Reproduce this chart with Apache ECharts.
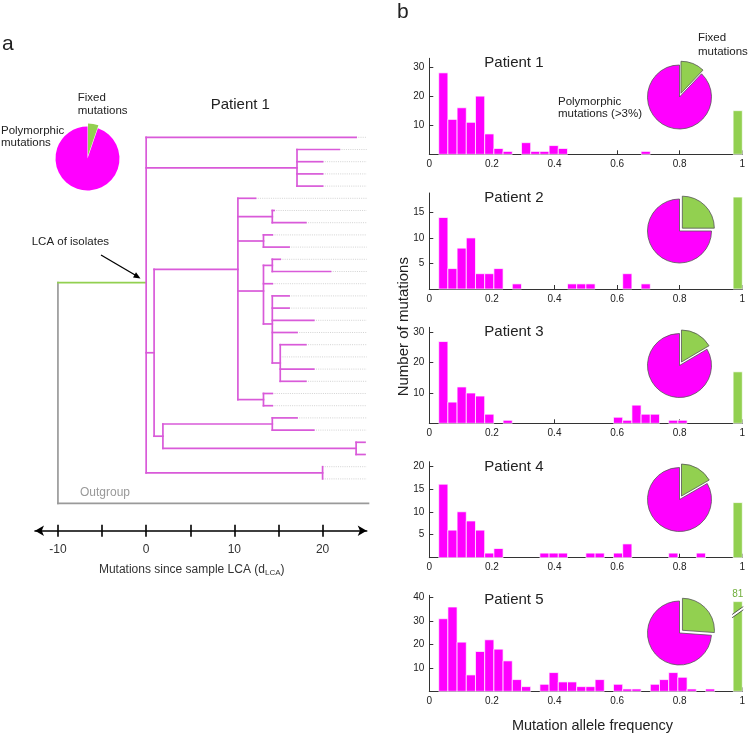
<!DOCTYPE html>
<html><head><meta charset="utf-8">
<script src="https://cdn.jsdelivr.net/npm/echarts@6/dist/echarts.min.js"></script>
<style>html,body{margin:0;padding:0;background:#fff}#c{width:750px;height:737px}</style>
</head><body><div id="c"></div>
<script>
// ===== Panel b: histogram data (32 polymorphic bins from 0.03, last bin = fixed) =====
const patients = ['Patient 1', 'Patient 2', 'Patient 3', 'Patient 4', 'Patient 5'];
const freqTicks = [0, 0.2, 0.4, 0.6, 0.8, 1];
const binStart = 0.03;
const binTotal = 33;
const p1Counts = [28,12,16,11,20,7,2,1,0,4,1,1,3,2,0,0,0,0,0,0,0,0,1,0,0,0,0,0,0,0,0,0];
const p2Counts = [14,4,8,10,3,3,4,0,1,0,0,0,0,0,1,1,1,0,0,0,3,0,1,0,0,0,0,0,0,0,0,0];
const p3Counts = [27,7,12,10,9,3,0,1,0,0,0,0,0,0,0,0,0,0,0,2,1,6,3,3,0,1,1,0,0,0,0,0];
const p4Counts = [16,6,10,8,6,1,2,0,0,0,0,1,1,1,0,0,1,1,0,1,3,0,0,0,0,1,0,0,1,0,0,0];
const p5Counts = [31,36,21,7,17,22,18,13,5,2,0,3,8,4,4,2,2,5,0,3,1,1,0,3,5,8,6,1,0,1,0,0];
const fixedCounts = [15, 18, 17, 12, 81];
const yMaxes = [33, 18.8, 31.7, 20.9, 41];
const yTickLabels = [[10,20,30],[5,10,15],[10,20,30],[5,10,15,20],[10,20,30,40]];
const breakCaps = [0, 0, 0, 0, 38.3];   // axis break for the fixed bar of patient 5
const breakMarkAt = 33.8;

// ===== Panel a: tree data (positions in mutations since sample LCA) =====
const nodeNames = ['R0','LCA','A','B','C','E','F','G','H','I','K','L','D','M','N','O'];
const nodeX = [-10, 0, 17.1, 0.9, 10.4, 14.3, 13.3, 13.3, 14.3, 14.3, 15.2, 13.3, 1.9, 14.3, 23.8, 20.0];
const nodeChildren = [['LCA','OUT'],[0,'A','B','O'],[1,2,3,4],['C','D'],[5,'E','F','G','L'],[6,7],[8,9],
  ['H',12,'I'],[10,11],[13,14,15,16,'K'],[17,18,19,20],[21,22],['M','N'],[23,24],[25,26],[27,28]];
const leafTipX = [23.8, 21.9,20.0,20.0,20.0, 12.4, 14.5,18.1, 14.3,16.2, 15.2,20.9, 14.3,
  16.2,16.2,19.0,17.1, 18.1,15.2,19.0,18.1, 14.3,14.3, 17.1,19.0, 24.8,24.8, 20.0,20.0];
const outgroupTipX = 25.2;
const outgroupRow = 30;
const leafLineEnd = 25.0;
const treeTickValues = [-10,-5,0,5,10,15,20];
const treeTickLabels = [-10,0,10,20];
const treePieFixed = 10;
const treePiePoly = 180;

// ===== styles =====
const MAG = '#ff00ff', GREEN = '#92d050', TREE_MAG = '#d95ad9', GRAY = '#9a9a9a';
const FONT = '"Liberation Sans", Helvetica, Arial, sans-serif';
const TXT = '#222';

const counts = [p1Counts, p2Counts, p3Counts, p4Counts, p5Counts];
const binW = (1 - binStart) / binTotal;
const gridTops = [58.3, 193, 327.3, 461.7, 595.3];
const pieCenters = [[679.5, 97], [679.5, 231], [679.5, 365.5], [679.5, 499.5], [679.5, 633]];

// ---- tree computation ----
const idx = {}; nodeNames.forEach((n, i) => idx[n] = i);
function yOf(c) {
  if (typeof c === 'number') return c;
  if (c === 'OUT') return outgroupRow;
  const ch = nodeChildren[idx[c]];
  return ch.reduce((s, k) => s + yOf(k), 0) / ch.length;
}
function xOf(c) {
  if (typeof c === 'number') return leafTipX[c];
  if (c === 'OUT') return outgroupTipX;
  return nodeX[idx[c]];
}
const treeColors = [TREE_MAG, GREEN, GRAY];
const segs = [];
nodeNames.forEach((n, i) => {
  const ch = nodeChildren[i];
  const ys = ch.map(yOf);
  segs.push([nodeX[i], Math.min(...ys), nodeX[i], Math.max(...ys), n === 'R0' ? 2 : 0]);
  ch.forEach(c => {
    const cy = yOf(c), cx = xOf(c);
    if (cx > nodeX[i]) segs.push([nodeX[i], cy, cx, cy, c === 'LCA' ? 1 : (c === 'OUT' ? 2 : 0)]);
  });
});
const dotted = leafTipX.map((t, k) => [t, k, leafLineEnd, k]);

// ---- build options ----
const grids = [{left: 35, width: 331.7, top: 125.1, height: 405.65}];
const xAxes = [
  {gridIndex: 0, type: 'value', min: -12.6, max: 25.0, position: 'bottom',
   axisLine: {show: true, onZero: false, symbol: ['arrow', 'arrow'], symbolSize: [8, 9], lineStyle: {color: '#000', width: 1.6}},
   axisTick: {show: true, inside: false, length: 6, customValues: treeTickValues, lineStyle: {color: '#000', width: 1.6}},
   axisLabel: {customValues: treeTickLabels, margin: 13, fontSize: 12, color: '#333', fontFamily: FONT},
   splitLine: {show: false}},
  {gridIndex: 0, type: 'value', min: -12.6, max: 25.0, position: 'bottom',
   axisLine: {show: false, onZero: false},
   axisTick: {show: true, inside: true, length: 6, customValues: treeTickValues, lineStyle: {color: '#000', width: 1.6}},
   axisLabel: {show: false}, splitLine: {show: false}}
];
const yAxes = [{gridIndex: 0, type: 'value', inverse: true, min: -1, max: 32.25, show: false}];
const series = [
  {type: 'custom', xAxisIndex: 0, yAxisIndex: 0, silent: true, data: dotted, encode: {x: [0, 2], y: [1, 3]},
   renderItem: (p, api) => {
     if (api.value(0) >= api.value(2)) return null;
     const a = api.coord([api.value(0), api.value(1)]), b = api.coord([api.value(2), api.value(3)]);
     return {type: 'line', shape: {x1: a[0], y1: a[1], x2: b[0], y2: b[1]},
       style: {stroke: '#b5b5b5', lineWidth: 0.6, lineDash: [1, 1.2]}};
   }},
  {type: 'custom', xAxisIndex: 0, yAxisIndex: 0, silent: true, data: segs, encode: {x: [0, 2], y: [1, 3]},
   renderItem: (p, api) => {
     const a = api.coord([api.value(0), api.value(1)]), b = api.coord([api.value(2), api.value(3)]);
     return {type: 'line', shape: {x1: a[0], y1: a[1], x2: b[0], y2: b[1]},
       style: {stroke: treeColors[api.value(4)], lineWidth: 1.7, lineCap: 'square'}};
   }},
  {type: 'pie', center: [87.5, 158.5], radius: 32, startAngle: 90, clockwise: true, silent: true,
   selectedMode: 'single', selectedOffset: 3, label: {show: false}, labelLine: {show: false},
   itemStyle: {borderWidth: 0},
   data: [{name: 'Fixed mutations', value: treePieFixed, selected: true, itemStyle: {color: GREEN}},
          {name: 'Polymorphic mutations', value: treePiePoly, itemStyle: {color: MAG}}]}
];

patients.forEach((name, i) => {
  const g = i + 1;        // grid / yAxis index
  const xi = i + 2;       // xAxis index (tree uses two x axes)
  grids.push({left: 429.3, width: 313, top: gridTops[i], height: 96});
  xAxes.push({gridIndex: g, type: 'value', min: 0, max: 1,
    axisLine: {show: true, onZero: false, lineStyle: {color: '#333', width: 1}},
    axisTick: {show: true, inside: true, length: 4, customValues: freqTicks, lineStyle: {color: '#333'}},
    axisLabel: {customValues: freqTicks, fontSize: 10, color: TXT, margin: 5, fontFamily: FONT},
    splitLine: {show: false}});
  yAxes.push({gridIndex: g, type: 'value', min: 0, max: yMaxes[i],
    axisLine: {show: true, onZero: false, lineStyle: {color: '#333', width: 1}},
    axisTick: {show: true, inside: true, length: 4, customValues: yTickLabels[i], lineStyle: {color: '#333'}},
    axisLabel: {customValues: yTickLabels[i], fontSize: 10, color: TXT, margin: 5, fontFamily: FONT},
    splitLine: {show: false}});
  const data = counts[i].map((c, b) => [binStart + b * binW, binStart + (b + 1) * binW, c, 0, 0]);
  data.push([binStart + counts[i].length * binW, binStart + (counts[i].length + 1) * binW, fixedCounts[i], 1, breakCaps[i]]);
  series.push({type: 'custom', xAxisIndex: xi, yAxisIndex: g, silent: true, data: data,
    encode: {x: [0, 1], y: 2},
    renderItem: (p, api) => {
      const v = api.value(2); if (!v) return null;
      const fixed = api.value(3) === 1, cap = api.value(4);
      const shown = cap ? Math.min(v, cap) : v;
      const a = api.coord([api.value(0), 0]), b = api.coord([api.value(1), shown]);
      const children = [{type: 'rect', shape: {x: a[0], y: b[1], width: b[0] - a[0], height: a[1] - b[1]},
        style: {fill: fixed ? GREEN : MAG, stroke: '#fff', lineWidth: 0.7}}];
      if (cap && v > cap) {
        const yc = api.coord([0, breakMarkAt])[1];
        const xl = a[0] - 1, xr = b[0] + 1, h = 4, t = 1.6;
        children.push({type: 'polygon', shape: {points: [[xl, yc + h + t], [xr, yc - h + t], [xr, yc - h - t], [xl, yc + h - t]]},
          style: {fill: '#fff'}});
        children.push({type: 'line', shape: {x1: xl, y1: yc + h + t, x2: xr, y2: yc - h + t}, style: {stroke: '#333', lineWidth: 0.8}});
        children.push({type: 'line', shape: {x1: xl, y1: yc + h - t, x2: xr, y2: yc - h - t}, style: {stroke: '#333', lineWidth: 0.8}});
        children.push({type: 'text', x: (a[0] + b[0]) / 2, y: b[1] - 7,
          style: {text: String(v), fill: '#6fae3a', font: '10px ' + FONT, align: 'center', verticalAlign: 'middle'}});
      }
      return {type: 'group', children: children};
    }});
  const poly = counts[i].reduce((s, c) => s + c, 0);
  series.push({type: 'pie', center: pieCenters[i], radius: 32, startAngle: 90, clockwise: true, silent: true,
    selectedMode: 'single', selectedOffset: 4, label: {show: false}, labelLine: {show: false},
    itemStyle: {borderColor: '#555', borderWidth: 0.8},
    data: [{name: 'Fixed mutations', value: fixedCounts[i], selected: true, itemStyle: {color: GREEN}},
           {name: 'Polymorphic mutations', value: poly, itemStyle: {color: MAG}}]});
});

function txt(x, y, s, size, opts) {
  return Object.assign({type: 'text', x: x, y: y, silent: true,
    style: Object.assign({text: s, font: size + 'px ' + FONT, fill: TXT, textAlign: 'left', textVerticalAlign: 'middle'}, opts || {})});
}
const graphics = [
  txt(2, 44, 'a', 21),
  txt(397, 12, 'b', 21),
  txt(210.7, 105, 'Patient 1', 15),
  txt(77.7, 97.7, 'Fixed', 11.5),
  txt(77.7, 110.5, 'mutations', 11.5),
  txt(1, 130.7, 'Polymorphic', 11.5),
  txt(1, 143.3, 'mutations', 11.5),
  txt(31.7, 242.3, 'LCA of isolates', 11.5),
  txt(80, 493, 'Outgroup', 12, {fill: '#999'}),
  {type: 'line', silent: true, shape: {x1: 101, y1: 255, x2: 135.5, y2: 275.3}, style: {stroke: '#000', lineWidth: 1.3}},
  {type: 'polygon', silent: true, shape: {points: [[140.5, 278.5], [133.0, 277.5], [136.0, 272.3]]}, style: {fill: '#000'}},
  {type: 'text', x: 191.7, y: 570, silent: true,
   style: {text: '{a|Mutations since sample LCA (d}{s|LCA}{a|)}', textAlign: 'center', textVerticalAlign: 'middle',
     rich: {a: {font: '12px ' + FONT, fill: '#333'}, s: {font: '8px ' + FONT, fill: '#333', padding: [6, 0, 0, 0]}}}},
  txt(698, 38.3, 'Fixed', 11.5),
  txt(698, 51.7, 'mutations', 11.5),
  txt(558, 101.7, 'Polymorphic', 11.5),
  txt(558, 114.3, 'mutations (>3%)', 11.5),
  {type: 'text', x: 403.7, y: 326.7, rotation: Math.PI / 2, silent: true,
   style: {text: 'Number of mutations', font: '15px ' + FONT, fill: TXT, textAlign: 'center', textVerticalAlign: 'middle'}},
  {type: 'text', x: 592.5, y: 726, silent: true,
   style: {text: 'Mutation allele frequency', font: '14.5px ' + FONT, fill: TXT, textAlign: 'center', textVerticalAlign: 'middle'}}
];
patients.forEach((name, i) => graphics.push(txt(484.3, gridTops[i] + 5, name, 15)));

const chart = echarts.init(document.getElementById('c'), null, {renderer: 'canvas', width: 750, height: 737});
chart.setOption({
  animation: false,
  backgroundColor: '#fff',
  grid: grids, xAxis: xAxes, yAxis: yAxes, series: series,
  graphic: {elements: graphics}
});
</script></body></html>
